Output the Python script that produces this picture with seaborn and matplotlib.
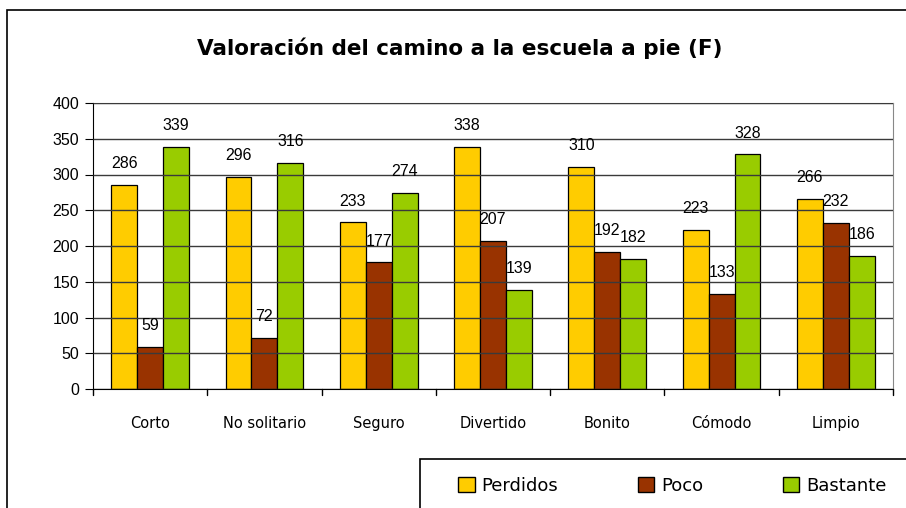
import pandas as pd
import matplotlib.pyplot as plt
import seaborn as sns
from matplotlib.patches import Rectangle, Patch

categories = ["Corto", "No solitario", "Seguro", "Divertido", "Bonito", "Cómodo", "Limpio"]
perdidos = [286, 296, 233, 338, 310, 223, 266]
poco = [59, 72, 177, 207, 192, 133, 232]
bastante = [339, 316, 274, 139, 182, 328, 186]
series = ["Perdidos", "Poco", "Bastante"]
colors = ["#FFCC00", "#993300", "#99CC00"]

data = pd.DataFrame({
    "categoria": categories * 3,
    "serie": [s for s in series for _ in categories],
    "valor": perdidos + poco + bastante,
})

sns.set_style("white")
plt.rcParams["font.family"] = ["Liberation Sans", "DejaVu Sans"]
plt.rcParams["text.color"] = "black"
plt.rcParams["xtick.color"] = "black"
plt.rcParams["ytick.color"] = "black"

fig = plt.figure(figsize=(9.06, 5.08), dpi=100)
ax = fig.add_axes([93 / 906, 1 - 389 / 508, 800 / 906, 286 / 508])

sns.barplot(data=data, x="categoria", y="valor", hue="serie", palette=colors,
            width=0.68, edgecolor="black", linewidth=0.9, ax=ax, legend=False,
            saturation=1, zorder=2)

for c in ax.containers:
    ax.bar_label(c, padding=10, fontsize=11.5, color="black")

ax.set_ylim(0, 400)
ax.set_yticks(range(0, 401, 50))
ax.set_xlim(-0.5, len(categories) - 0.5)
ax.yaxis.grid(True, color="#3a3a3a", linewidth=1, zorder=3)
ax.set_axisbelow(False)
ax.set_xlabel("")
ax.set_ylabel("")
ax.tick_params(axis="y", labelsize=11.5, length=6, direction="out", left=True, pad=4,
               colors="black")
ax.tick_params(axis="x", bottom=False, pad=16, colors="black")
for lab in ax.get_xticklabels():
    lab.set_fontfamily(["DejaVu Sans"])
    lab.set_fontsize(10.5)
for x in [i - 0.5 for i in range(len(categories) + 1)]:
    ax.plot([x, x], [0, -9], color="black", lw=1, clip_on=False)

for side in ["top", "right"]:
    ax.spines[side].set_color("#888888")
for side in ["left", "bottom"]:
    ax.spines[side].set_color("black")

fig.text(460 / 906, 1 - 48 / 508, "Valoración del camino a la escuela a pie (F)",
         ha="center", va="center", fontsize=15.5, fontweight="bold",
         family=["DejaVu Sans"], color="black")

# outer chart frame and legend box
fig.patches.append(Rectangle((7 / 906, -0.1), 1.2, 1 - 10 / 508 + 0.1,
                             transform=fig.transFigure, fill=False,
                             edgecolor="black", lw=1.2))
fig.patches.append(Rectangle((420 / 906, -0.1), 1.0, 0.1 + 1 - 459 / 508,
                             transform=fig.transFigure, fill=False,
                             edgecolor="black", lw=1.2))

handles = [Patch(facecolor=col, edgecolor="black", label=s) for s, col in zip(series, colors)]
fig.legend(handles=handles, loc="center left", bbox_to_anchor=(442 / 906, 1 - 486 / 508),
           ncol=3, frameon=False, handlelength=0.9, handleheight=0.9,
           handletextpad=0.4, columnspacing=4.4, prop={"family": ["DejaVu Sans"], "size": 13})

fig.savefig("out.png", dpi=100)
